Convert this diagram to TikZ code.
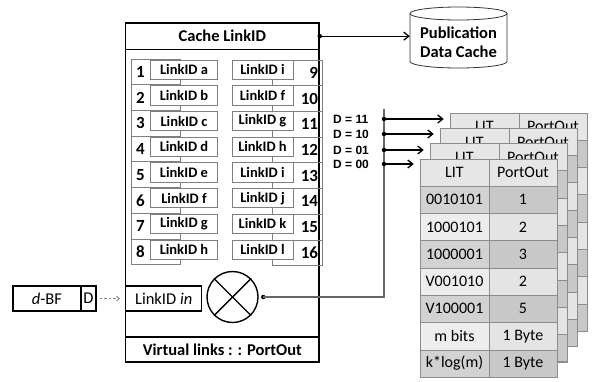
\documentclass[tikz,border=0pt]{standalone}
\usepackage{fontspec}
\setmainfont{Carlito}
\newfontfamily\arialfam{Liberation Sans}
\usetikzlibrary{arrows.meta}
\definecolor{cellline}{HTML}{7F7F7F}
\definecolor{tblline}{HTML}{8C8C8C}
\definecolor{hdrfill}{HTML}{E6E6E6}
\definecolor{darkL}{HTML}{D2D2D2}
\definecolor{darkR}{HTML}{C8C8C8}
\definecolor{lightL}{HTML}{EDEDED}
\definecolor{lightR}{HTML}{E4E4E4}
\definecolor{wire}{HTML}{666666}
\begin{document}
\begin{tikzpicture}[x=1pt,y=-1pt,
  boxthick/.style={draw=black, line width=1.4pt, inner sep=0pt, fill=white},
  numcellL/.style={draw=cellline, line width=0.7pt, minimum height=25.7pt, inner xsep=5pt, inner ysep=0pt, text width=39pt, align=left, font=\fontsize{17}{17}\selectfont\bfseries},
  numcellR/.style={draw=cellline, line width=0.7pt, minimum height=25.7pt, inner xsep=4pt, inner ysep=0pt, text width=42pt, align=right, font=\fontsize{17}{17}\selectfont\bfseries},
  lidbox/.style={draw=cellline, fill=white, line width=0.7pt, minimum height=19.3pt, inner sep=0pt, font=\fontsize{14.5}{15}\selectfont\bfseries},
  tcell/.style={draw=tblline, line width=0.6pt, minimum height=27.3pt, inner sep=0pt, font=\fontsize{16}{17}\selectfont},
  dlabel/.style={font=\arialfam\bfseries\fontsize{12}{13}\selectfont, anchor=west, inner sep=0pt},
  dotnode/.style={circle, fill=black, inner sep=0pt, minimum size=4.5pt},
  arr/.style={-{Straight Barb[length=5pt,width=8pt]}, line width=1.3pt, black},
  wireline/.style={draw=wire, line width=1.8pt}
]
\useasboundingbox (0,0) rectangle (593,381);

% main box
\node[boxthick, minimum width=193.3pt, minimum height=339pt] (main) at (222.35,192.5) {};
\node[boxthick, minimum width=193.3pt, minimum height=26.3pt, font=\fontsize{16.5}{17}\selectfont\bfseries] (hdr) at (222.35,36.15) {Cache LinkID};
\node[boxthick, minimum width=193.3pt, minimum height=25pt, font=\fontsize{16.5}{17}\selectfont\bfseries] (ftr) at (222.35,349.5) {Virtual links : : PortOut};

% left column
\foreach \i/\n/\l in {1/1/a,2/2/b,3/3/c,4/4/d,5/5/e,6/6/f,7/7/g,8/8/h}{
  \pgfmathsetmacro\cy{59+(\i-1)*25.7+12.85}
  \node[numcellL] (nL\i) at (155.5,\cy) {\n};
  \node[lidbox, minimum width=66.6pt] (lL\i) at (184,\cy-2.2) {LinkID \l};
}
% right column
\foreach \i/\n/\l in {1/9/i,2/10/f,3/11/g,4/12/h,5/13/i,6/14/j,7/15/k,8/16/l}{
  \pgfmathsetmacro\cy{59+(\i-1)*25.7+12.85}
  \node[numcellR] (nR\i) at (297,\cy+1) {\n};
  \node[lidbox, minimum width=61pt] (lR\i) at (262.5,\cy-2.2) {LinkID \l};
}

% LinkID in and multiplexer
\node[boxthick, minimum width=76pt, minimum height=25pt, font=\fontsize{16.5}{17}\selectfont] (lin) at (163.7,298.5) {LinkID \textit{in}};
\node[circle, draw=black, line width=1.4pt, minimum size=51pt, inner sep=0pt] (mux) at (232.5,297) {};
\draw[line width=1.4pt] (mux.north west) -- (mux.south east);
\draw[line width=1.4pt] (mux.north east) -- (mux.south west);

% d-BF
\node[boxthick, minimum width=68pt, minimum height=25pt, font=\fontsize{16.5}{17}\selectfont] (dbf) at (47,298.5) {\textit{d}-BF};
\node[boxthick, minimum width=15pt, minimum height=25pt, font=\fontsize{16.5}{17}\selectfont] (dD) at (88.5,298.5) {D};
\draw[gray, line width=0.8pt, dash pattern=on 2.5pt off 2pt, -{Straight Barb[length=3pt,width=5pt]}, shorten <=3pt, shorten >=5pt] (dD.east) -- (lin.west);

% wire to tables
\node[dotnode] (mdot) at (263.3,297) {};
\coordinate (bend) at (384,297);
\coordinate (vtop) at (384,109);
\draw[wireline] (mdot.center) -- (bend) -- (vtop);

% back tables (only header texts are visible)
\foreach \k in {3,2,1}{
  \pgfmathsetmacro\ox{10*\k}
  \pgfmathsetmacro\oy{-15.3*\k}
  \node[tcell, fill=hdrfill, minimum width=69pt, minimum height=27pt] (t\k-h1) at (454.5+\ox,172.5+\oy) {LIT};
  \node[tcell, fill=hdrfill, minimum width=68pt, minimum height=27pt] (t\k-h2) at (523+\ox,172.5+\oy) {PortOut};
  \foreach \r/\ca/\cb in {1/darkL/darkR,2/lightL/lightR,3/darkL/darkR,4/lightL/lightR,5/darkL/darkR,6/lightL/lightR,7/darkL/darkR}{
    \node[tcell, fill=\ca, minimum width=69pt] (t\k-\r-1) at (454.5+\ox,199.65+27.3*\r-27.3+\oy) {};
    \node[tcell, fill=\cb, minimum width=68pt] (t\k-\r-2) at (523+\ox,199.65+27.3*\r-27.3+\oy) {};
  }
  \node[draw=tblline, line width=0.6pt, minimum width=137pt, minimum height=218pt, inner sep=0pt] (t\k) at (488.5+\ox,268+\oy) {};
}
% front table
\node[tcell, fill=hdrfill, minimum width=69pt, minimum height=27pt] (t0-h1) at (454.5,172.5) {LIT};
\node[tcell, fill=hdrfill, minimum width=68pt, minimum height=27pt] (t0-h2) at (523,172.5) {PortOut};
\foreach \r/\a/\b/\ca/\cb in {1/0010101/1/darkL/darkR,2/1000101/2/lightL/lightR,3/1000001/3/darkL/darkR,4/V001010/2/lightL/lightR,5/V100001/5/darkL/darkR,6/m bits/1 Byte/lightL/lightR,7/k*log(m)/1 Byte/darkL/darkR}{
  \node[tcell, fill=\ca, minimum width=69pt] (t0-\r-1) at (454.5,199.65+27.3*\r-27.3) {\a};
  \node[tcell, fill=\cb, minimum width=68pt] (t0-\r-2) at (523,199.65+27.3*\r-27.3) {\b};
}
\node[draw=tblline, line width=0.6pt, minimum width=137pt, minimum height=218pt, inner sep=0pt] (t0) at (488.5,268) {};

% D selectors
\node[dlabel] (l11) at (333,119) {D = 11};
\node[dlabel] (l10) at (333,134) {D = 10};
\node[dlabel] (l01) at (333,150) {D = 01};
\node[dlabel] (l00) at (333,164) {D = 00};
\node[dotnode] (d11) at (384,119) {};
\node[dotnode] (d10) at (384,134) {};
\node[dotnode] (d01) at (384,150) {};
\node[dotnode] (d00) at (384,164) {};
\draw[arr, shorten >=6pt] (d11.center) -- (d11 -| t3.west);
\draw[arr, shorten >=6pt] (d10.center) -- (d10 -| t2.west);
\draw[arr, shorten >=6pt] (d01.center) -- (d01 -| t1.west);
\draw[arr, shorten >=6pt] (d00.center) -- (d00 -| t0.west);

% publication data cache cylinder
\draw[draw=black!80, line width=0.8pt, fill=white] (410,13.5) -- (410,61.5) arc (180:0:48.5 and 6.5) -- (507,13.5);
\draw[draw=black!80, line width=0.8pt, fill=white] (458.5,13.5) ellipse (48.5 and 6.5);
\node[minimum width=97pt, inner sep=0pt, align=center, font=\fontsize{16.5}{19}\selectfont\bfseries] (pdc) at (458.5,42.5) {Publication\\Data Cache};
\node[dotnode] (hdot) at (hdr.east) {};
\draw[arr] (hdot.center) -- (hdot -| pdc.west);
\end{tikzpicture}
\end{document}
